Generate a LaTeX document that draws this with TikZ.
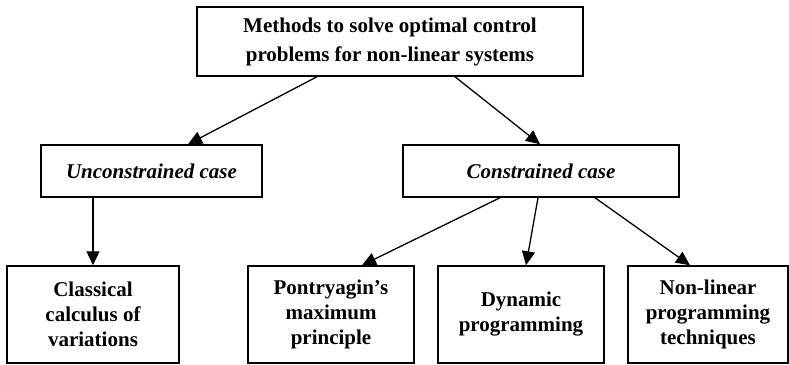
\documentclass[tikz,border=0pt]{standalone}
\usepackage{fontspec}
\setmainfont{Liberation Serif}
\usetikzlibrary{arrows.meta}

\begin{document}
\begin{tikzpicture}[x=1pt,y=-1pt,
  methbox/.style={draw,line width=1.5pt,inner sep=0pt,align=center,
    font=\fontsize{21}{25}\selectfont\bfseries},
  arr/.style={line width=1.3pt,-{Triangle[length=14pt,width=13pt]}}]
  \useasboundingbox (0,0) rectangle (789,364);
  % top box
  \node[methbox,minimum width=386pt,minimum height=69pt,
    font=\fontsize{21}{29}\selectfont\bfseries] (meth) at (390,41.5)
    {Methods to solve optimal control\\problems for non-linear systems};
  % the two cases
  \node[methbox,minimum width=221pt,minimum height=52pt] (uncon) at (151.5,171)
    {\itshape Unconstrained case};
  \node[methbox,minimum width=276pt,minimum height=52pt] (con) at (541,171)
    {\itshape Constrained case};
  % methods
  \node[methbox,minimum width=172pt,minimum height=97pt] (calc) at (93,314.5)
    {Classical\\calculus of\\variations};
  \node[methbox,minimum width=166pt,minimum height=97pt] (pont) at (331,314.5)
    {Pontryagin's\\maximum\\principle};
  \node[methbox,minimum width=166pt,minimum height=97pt] (dyn) at (521,314.5)
    {Dynamic\\programming};
  \node[methbox,minimum width=160pt,minimum height=97pt] (nlp) at (708,314.5)
    {Non-linear\\programming\\techniques};
  % arrows
  \draw[arr] ([xshift=-73pt]meth.south) -- ([xshift=36.5pt]uncon.north);
  \draw[arr] ([xshift=65pt]meth.south) -- ([xshift=-1pt]con.north);
  \draw[arr] ([xshift=-58.5pt]uncon.south) -- (calc.north);
  \draw[arr] ([xshift=-41pt]con.south) -- ([xshift=31pt]pont.north);
  \draw[arr] ([xshift=-3pt]con.south) -- ([xshift=5pt]dyn.north);
  \draw[arr] ([xshift=54pt]con.south) -- ([xshift=-18pt]nlp.north);
\end{tikzpicture}
\end{document}
